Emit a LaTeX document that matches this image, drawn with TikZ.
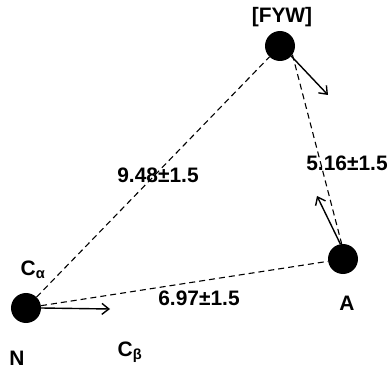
\documentclass[tikz,border=0pt]{standalone}
\usepackage{fontspec}
\setmainfont{Liberation Sans}
\usetikzlibrary{arrows.meta}
\begin{document}
\begin{tikzpicture}[x=1bp,y=1bp,
  atom/.style={circle,fill=black,minimum size=30bp,inner sep=0pt},
  lbl/.style={font=\fontsize{21}{23}\selectfont\bfseries,inner sep=0pt},
  dist/.style={draw=black,line width=1.1bp,dash pattern=on 6bp off 4bp},
  vec/.style={draw=black,line width=1.4bp,-{Straight Barb[length=7bp,width=11bp]}}]
\useasboundingbox (0,0) rectangle (392,373);
% atoms
\node[atom] (fyw) at (280,327) {};
\node[atom] (n) at (26,65) {};
\node[atom] (a) at (343,114) {};
% distances between atoms
\draw[dist] (n) -- (fyw);
\draw[dist] (n) -- (a);
\draw[dist] (fyw.-35) -- (a.95);
% direction vectors
\coordinate (fywtip) at (328,278);
\coordinate (ntip) at (110,64);
\coordinate (atip) at (317,177);
\draw[vec] (fyw.-42) -- (fywtip);
\draw[vec] (n.east) -- (ntip);
\draw[vec] (a.100) -- (atip);
% labels
\node[lbl] (lfyw) at (282,356) {[FYW]};
\node[lbl] (ln) at (17,15) {N};
\node[lbl] (la) at (347,70) {A};
\node[lbl] (lca) at (33,103) {C\textsubscript{α}};
\node[lbl] (lcb) at (130,21) {C\textsubscript{β}};
\node[lbl] (d1) at (158,198) {9.48±1.5};
\node[lbl] (d2) at (347,210) {5.16±1.5};
\node[lbl] (d3) at (199,75) {6.97±1.5};
\end{tikzpicture}
\end{document}
